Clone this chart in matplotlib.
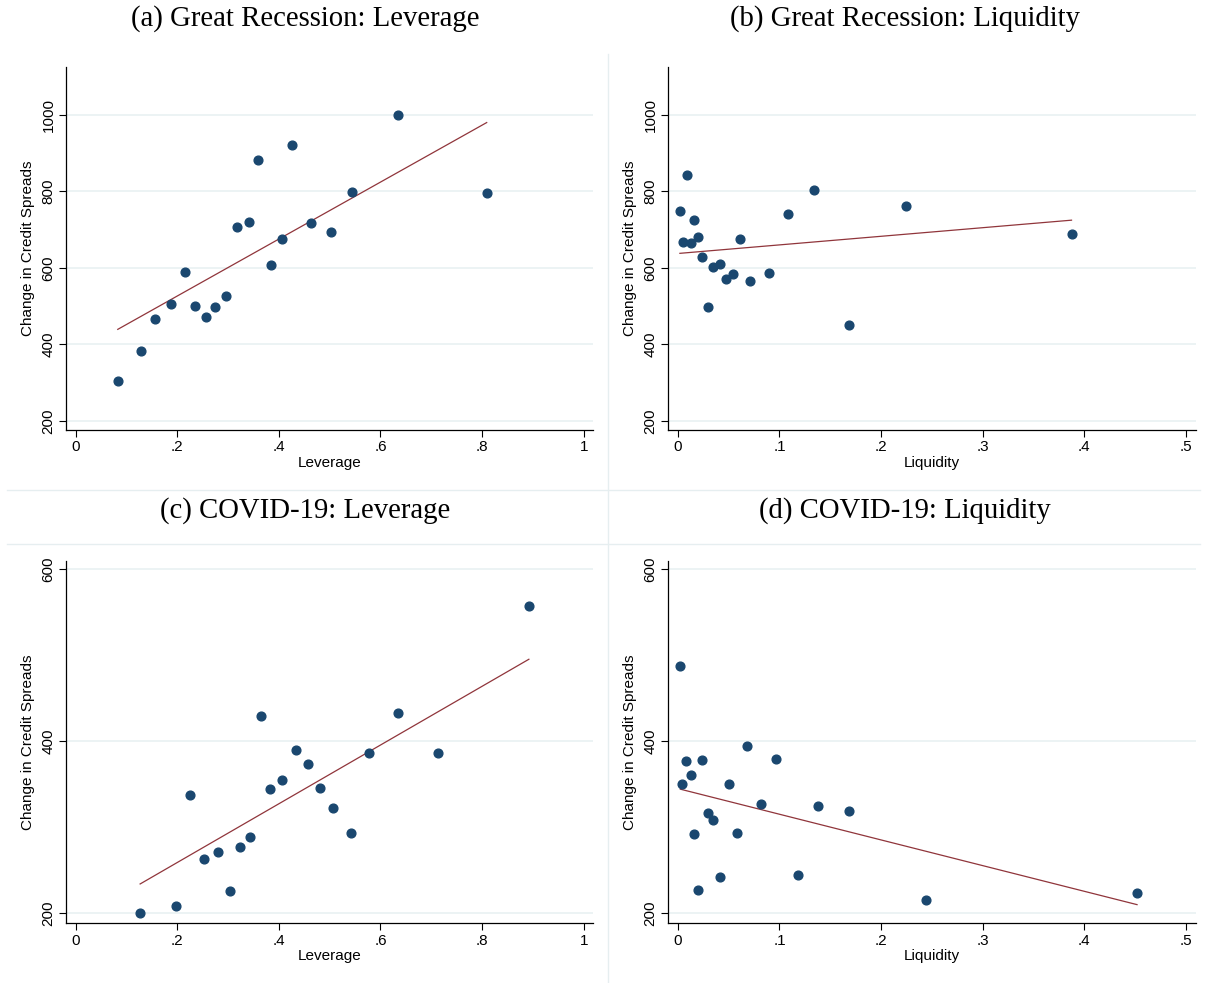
import numpy as np
import matplotlib
matplotlib.use("Agg")
import matplotlib.pyplot as plt
from matplotlib.lines import Line2D

plt.rcParams['font.family'] = ['Liberation Sans', 'DejaVu Sans']

# (a) Great Recession: leverage
gr_lev_x = [0.083, 0.128, 0.157, 0.187, 0.216, 0.235, 0.256, 0.274, 0.295, 0.318,
            0.342, 0.359, 0.385, 0.406, 0.425, 0.463, 0.503, 0.544, 0.635, 0.809]
gr_lev_y = [305, 383, 467, 505, 590, 501, 473, 498, 528, 706,
            720, 881, 607, 676, 921, 718, 695, 799, 1000, 795]
gr_lev_fit = (377.7, 744.6)   # intercept, slope of the drawn fit line

# (b) Great Recession: liquidity
gr_liq_x = [0.002, 0.005, 0.009, 0.0125, 0.016, 0.020, 0.024, 0.0295, 0.0345, 0.041,
            0.047, 0.054, 0.061, 0.071, 0.090, 0.1085, 0.134, 0.168, 0.225, 0.3875]
gr_liq_y = [748, 669, 844, 665, 726, 681, 628, 497, 602, 611,
            570, 585, 676, 567, 587, 742, 805, 452, 761, 690]
gr_liq_fit = (637.8, 224.8)

# (c) COVID-19: leverage
cv_lev_x = [0.127, 0.197, 0.226, 0.252, 0.280, 0.304, 0.323, 0.343, 0.364, 0.382,
            0.407, 0.434, 0.457, 0.480, 0.506, 0.541, 0.577, 0.635, 0.714, 0.892]
cv_lev_y = [200, 208, 338, 263, 271, 226, 277, 289, 430, 344,
            355, 390, 374, 346, 323, 294, 387, 433, 386, 557]
cv_lev_fit = (190.8, 341.5)

# (d) COVID-19: liquidity
cv_liq_x = [0.0024, 0.0044, 0.0078, 0.0125, 0.016, 0.020, 0.024, 0.0295, 0.0345, 0.041,
            0.0505, 0.058, 0.068, 0.082, 0.0965, 0.118, 0.138, 0.168, 0.244, 0.452]
cv_liq_y = [488, 350, 377, 361, 292, 227, 378, 317, 308, 242,
            350, 293, 395, 327, 380, 245, 325, 319, 216, 224]
cv_liq_fit = (345.1, -298.6)

titles = ["(a) Great Recession: Leverage", "(b) Great Recession: Liquidity",
          "(c) COVID-19: Leverage", "(d) COVID-19: Liquidity"]

navy = "#1a476f"
maroon = "#90353b"
gridc = "#eaf2f3"


def panel(rect, x, y, fit, xlab, xticks, xlabels, xlim, yticks, ylim):
    ax = fig.add_axes(rect)
    x = np.array(x)
    y = np.array(y)
    ax.plot(x, y, 'o', color=navy, ms=6.3, mec=navy, zorder=3)
    a, b = fit
    xs = np.array([x.min(), x.max()])
    ax.plot(xs, a + b * xs, color=maroon, lw=0.9, zorder=2)
    ax.set_xlim(xlim)
    ax.set_ylim(ylim)
    ax.set_xticks(xticks)
    ax.set_xticklabels(xlabels, fontsize=11)
    ax.set_yticks(yticks)
    ax.set_yticklabels([str(v) for v in yticks], fontsize=11, rotation=90, va='center')
    ax.grid(axis='y', color=gridc, lw=1.3)
    ax.set_axisbelow(True)
    for s in ['top', 'right']:
        ax.spines[s].set_visible(False)
    for s in ['left', 'bottom']:
        ax.spines[s].set_linewidth(0.9)
    ax.tick_params(length=5, width=0.8, pad=2.5)
    ax.set_xlabel(xlab, fontsize=11, labelpad=1)
    ax.set_ylabel("Change in Credit Spreads", fontsize=11, labelpad=5)
    return ax


fig = plt.figure(figsize=(12.1, 9.83), dpi=100)

lev_ticks = [0, 0.2, 0.4, 0.6, 0.8, 1]
lev_labels = ["0", ".2", ".4", ".6", ".8", "1"]
liq_ticks = [0, 0.1, 0.2, 0.3, 0.4, 0.5]
liq_labels = ["0", ".1", ".2", ".3", ".4", ".5"]

top_y = [200, 400, 600, 800, 1000]
bot_y = [200, 400, 600]

panel([0.0545, 0.5626, 0.4355, 0.369], gr_lev_x, gr_lev_y, gr_lev_fit, "Leverage",
      lev_ticks, lev_labels, (-0.019, 1.018), top_y, (176.5, 1124.7))
panel([0.552, 0.5626, 0.4364, 0.369], gr_liq_x, gr_liq_y, gr_liq_fit, "Liquidity",
      liq_ticks, liq_labels, (-0.0098, 0.51), top_y, (176.5, 1124.7))
panel([0.0545, 0.0607, 0.4355, 0.3689], cv_lev_x, cv_lev_y, cv_lev_fit, "Leverage",
      lev_ticks, lev_labels, (-0.019, 1.018), bot_y, (188.4, 610))
panel([0.552, 0.0607, 0.4364, 0.3689], cv_liq_x, cv_liq_y, cv_liq_fit, "Liquidity",
      liq_ticks, liq_labels, (-0.0098, 0.51), bot_y, (188.4, 610))

# panel titles
for i, (cx, cy) in enumerate([(305, 19), (905, 19), (305, 511), (905, 511)]):
    fig.text(cx / 1210, 1 - cy / 983, titles[i], family='Liberation Serif',
             fontsize=20.7, ha='center', va='center')

# faint outlines of the combined sub-graphs
sep = "#e6eef0"
fig.add_artist(Line2D([7 / 1210, 1200 / 1210], [1 - 490 / 983] * 2, color=sep, lw=1))
fig.add_artist(Line2D([7 / 1210, 1200 / 1210], [1 - 544 / 983] * 2, color=sep, lw=1))
fig.add_artist(Line2D([608 / 1210] * 2, [1 - 54 / 983, 0], color=sep, lw=1))

fig.savefig("out.png", dpi=100)
